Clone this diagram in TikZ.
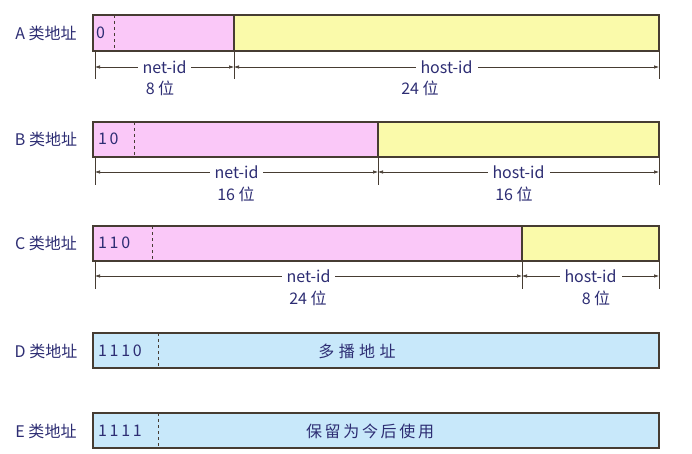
\documentclass[tikz,border=0pt]{standalone}
\usepackage{fontspec}
\setmainfont{Noto Sans CJK SC}
\usetikzlibrary{arrows.meta}
\definecolor{addrpink}{RGB}{250,200,248}
\definecolor{addryellow}{RGB}{250,250,170}
\definecolor{addrblue}{RGB}{200,232,250}
\definecolor{addrtext}{RGB}{45,45,115}
\definecolor{addrline}{RGB}{70,60,50}

\begin{document}
\begin{tikzpicture}[x=1pt,y=-1pt,
    field/.style={draw=addrline, line width=1.2pt},
    tick/.style={addrline, line width=0.6pt},
    dim/.style={addrline, line width=0.6pt, {Latex[length=5pt,width=3.5pt]}-{Latex[length=5pt,width=3.5pt]}},
    lbl/.style={text=addrtext, font=\fontsize{16}{18}\selectfont, inner sep=1pt},
    dimlbl/.style={text=addrtext, font=\fontsize{16}{18}\selectfont, fill=white, inner sep=5pt}]
    \useasboundingbox (0,0) rectangle (692,454);

    % A class
    \fill[addrpink] (93,15) rectangle (234,51);
    \fill[addryellow] (234,15) rectangle (659,51);
    \draw[field] (93,15) rectangle (659,51);
    \draw[field] (234,15) -- (234,51);
    \draw[addrline, dashed, thick] (114,15) -- (114,51);
    \node[lbl] (aname) at (46,33) {A 类地址};
    \node[lbl, anchor=west] (abits) at (95,33) {0};
    \draw[tick] (95,51) -- (95,79);
    \draw[tick] (234,51) -- (234,79);
    \draw[tick] (659,51) -- (659,79);
    \coordinate (a0) at (95,67);
    \coordinate (a1) at (234,67);
    \coordinate (a2) at (659,67);
    \draw[dim] (a0) -- node[dimlbl] (anet) {net-id} (a1);
    \draw[dim] (a1) -- node[dimlbl] (ahost) {host-id} (a2);
    \node[lbl] at (160,88) {8 位};
    \node[lbl] at (420,88) {24 位};

    % B class
    \fill[addrpink] (93,122) rectangle (378,157);
    \fill[addryellow] (378,122) rectangle (659,157);
    \draw[field] (93,122) rectangle (659,157);
    \draw[field] (378,122) -- (378,157);
    \draw[addrline, dashed, thick] (134,122) -- (134,157);
    \node[lbl] (bname) at (46,139) {B 类地址};
    \node[lbl, anchor=west] (bbits) at (97,139) {1\,0};
    \draw[tick] (95,157) -- (95,185);
    \draw[tick] (378,157) -- (378,185);
    \draw[tick] (659,157) -- (659,185);
    \coordinate (b0) at (95,172);
    \coordinate (b1) at (378,172);
    \coordinate (b2) at (659,172);
    \draw[dim] (b0) -- node[dimlbl] (bnet) {net-id} (b1);
    \draw[dim] (b1) -- node[dimlbl] (bhost) {host-id} (b2);
    \node[lbl] at (236,194) {16 位};
    \node[lbl] at (514,194) {16 位};

    % C class
    \fill[addrpink] (93,226) rectangle (522,261);
    \fill[addryellow] (522,226) rectangle (659,261);
    \draw[field] (93,226) rectangle (659,261);
    \draw[field] (522,226) -- (522,261);
    \draw[addrline, dashed, thick] (152,226) -- (152,261);
    \node[lbl] (cname) at (46,243) {C 类地址};
    \node[lbl, anchor=west] (cbits) at (97,243) {1\,1\,0};
    \draw[tick] (95,261) -- (95,289);
    \draw[tick] (522,261) -- (522,289);
    \draw[tick] (659,261) -- (659,289);
    \coordinate (c0) at (95,276);
    \coordinate (c1) at (522,276);
    \coordinate (c2) at (659,276);
    \draw[dim] (c0) -- node[dimlbl] (cnet) {net-id} (c1);
    \draw[dim] (c1) -- node[dimlbl] (chost) {host-id} (c2);
    \node[lbl] at (308,298) {24 位};
    \node[lbl] at (596,298) {8 位};

    % D class
    \fill[addrblue] (93,333) rectangle (659,368);
    \draw[field] (93,333) rectangle (659,368);
    \draw[addrline, dashed, thick] (158,333) -- (158,368);
    \node[lbl] (dname) at (46,351) {D 类地址};
    \node[lbl, anchor=west] (dbits) at (97,351) {1\,1\,1\,0};
    \node[lbl] (duse) at (357,351) {多\;播\;地\;址};

    % E class
    \fill[addrblue] (93,413) rectangle (659,448);
    \draw[field] (93,413) rectangle (659,448);
    \draw[addrline, dashed, thick] (158,413) -- (158,448);
    \node[lbl] (ename) at (46,431) {E 类地址};
    \node[lbl, anchor=west] (ebits) at (97,431) {1\,1\,1\,1};
    \node[lbl] (euse) at (370,431) {保\,留\,为\,今\,后\,使\,用};
\end{tikzpicture}
\end{document}
